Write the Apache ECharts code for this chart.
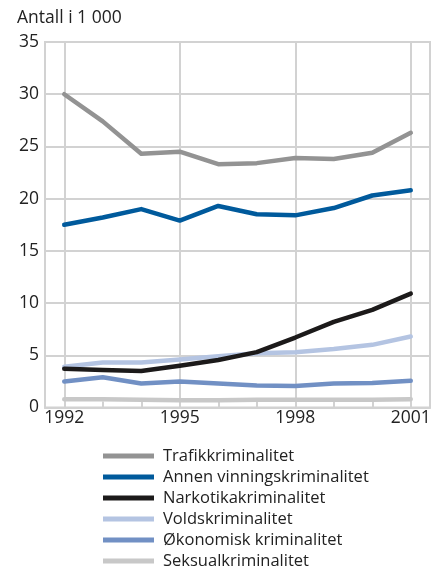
<!DOCTYPE html>
<html><head><meta charset="utf-8">
<script src="https://cdn.jsdelivr.net/npm/echarts@6/dist/echarts.min.js"></script>
<style>html,body{margin:0;padding:0;background:#fff}#c{width:438px;height:570px}</style>
</head><body><div id="c"></div>
<script>
const years = ['1992','1993','1994','1995','1996','1997','1998','1999','2000','2001'];
const trafikk = [30.0, 27.4, 24.3, 24.5, 23.3, 23.4, 23.9, 23.8, 24.4, 26.3];
const annen = [17.5, 18.2, 19.0, 17.9, 19.3, 18.5, 18.4, 19.1, 20.3, 20.8];
const narkotika = [3.7, 3.6, 3.5, 4.0, 4.55, 5.3, 6.7, 8.2, 9.35, 10.9];
const volds = [3.9, 4.3, 4.3, 4.6, 4.9, 5.2, 5.3, 5.6, 6.0, 6.8];
const okonomisk = [2.5, 2.9, 2.3, 2.5, 2.3, 2.1, 2.05, 2.3, 2.35, 2.55];
const seksual = [0.8, 0.8, 0.75, 0.7, 0.7, 0.75, 0.75, 0.75, 0.75, 0.8];
const names = ['Trafikkriminalitet','Annen vinningskriminalitet','Narkotikakriminalitet','Voldskriminalitet','Økonomisk kriminalitet','Seksualkriminalitet'];
const yMin = 0, yMax = 35, yStep = 5;
const gridTickYears = [1992, 2001];

const font = '"Open Sans", "Noto Sans", sans-serif';
const lineGray = '#d2d2d2';
const chart = echarts.init(document.getElementById('c'), null, {renderer:'canvas'});
function s(name, data, color, z){
  return {name, type:'line', data, xAxisIndex:0, yAxisIndex:0, symbol:'none', z,
    lineStyle:{color, width:4.5, cap:'round', join:'round'}, itemStyle:{color}, animation:false};
}
chart.setOption({
  animation:false,
  title:{text:'Antall i 1 000', left:17, top:9, padding:0, textStyle:{fontFamily:font, fontSize:17.5, fontWeight:'normal', color:'#222'}},
  grid:[
    {left:45, right:8, top:42, height:365.5, show:true, borderColor:lineGray, borderWidth:2, containLabel:false},
    {left:64.25, right:438-410.75, top:42, height:365.5, containLabel:false}
  ],
  xAxis:[
    {type:'category', gridIndex:0, data:years, boundaryGap:true,
      axisLine:{lineStyle:{color:lineGray, width:2}},
      axisTick:{show:true, inside:true, length:6, alignWithLabel:true, interval:0, lineStyle:{color:lineGray, width:2}},
      axisLabel:{interval:2, fontFamily:font, fontSize:17.5, color:'#222', margin:2},
      splitLine:{show:false}},
    {type:'value', gridIndex:1, min:gridTickYears[0], max:gridTickYears[1], interval:3,
      axisLine:{show:false}, axisTick:{show:false}, axisLabel:{show:false},
      splitLine:{show:true, lineStyle:{color:lineGray, width:2}}}
  ],
  yAxis:[
    {type:'value', gridIndex:0, min:yMin, max:yMax, interval:yStep,
      axisLine:{show:true, lineStyle:{color:lineGray, width:2}}, axisTick:{show:false},
      axisLabel:{fontFamily:font, fontSize:17.5, color:'#222', margin:6},
      splitLine:{show:true, lineStyle:{color:lineGray, width:2}}},
    {type:'value', gridIndex:1, min:0, max:1, show:false, splitLine:{show:false}}
  ],
  legend:{orient:'vertical', left:103, top:447, height:130, padding:0, itemWidth:51, itemHeight:5, itemGap:3, icon:'rect',
    data:names,
    textStyle:{fontFamily:font, fontSize:16.5, color:'#222', lineHeight:18, padding:[0,0,0,4]}},
  series:[
    s(names[5], seksual, '#c8c8c8', 2),
    s(names[4], okonomisk, '#7190c4', 3),
    s(names[3], volds, '#b4c4e2', 4),
    s(names[2], narkotika, '#1c1a1a', 5),
    s(names[1], annen, '#005a9c', 6),
    s(names[0], trafikk, '#939393', 7)
  ]
});
</script></body></html>
